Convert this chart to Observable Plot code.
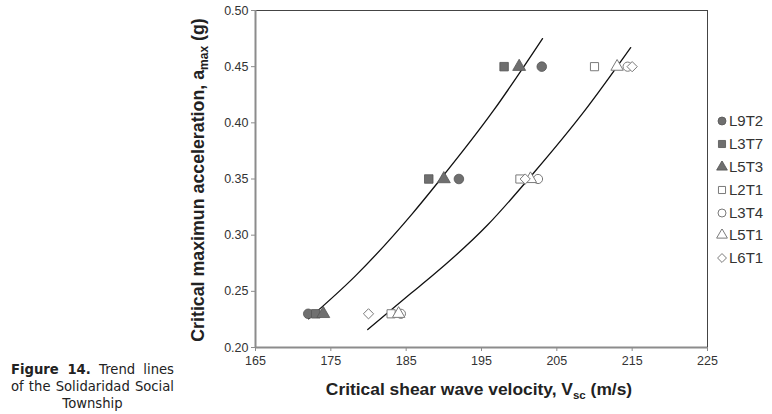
<!DOCTYPE html>
<html>
<head>
<meta charset="utf-8">
<script src="https://cdn.jsdelivr.net/npm/d3@7"></script>
<script src="https://cdn.jsdelivr.net/npm/@observablehq/plot@0.6"></script>
<style>
  html, body { margin: 0; padding: 0; background: #fff; }
  #wrap { position: relative; width: 772px; height: 414px; overflow: hidden; }
  #caption { position: absolute; left: 11px; top: 361px; width: 163px; font-family: "DejaVu Sans", Verdana, sans-serif; font-size: 13.2px; line-height: 17px; color: #222; }
  #caption span { display: block; white-space: nowrap; text-align: justify; text-align-last: justify; }
  #caption span.c { text-align: center; text-align-last: center; }
  #legend { position: absolute; left: 716px; top: 110px; font-family: "Liberation Sans", Arial, sans-serif; font-size: 15px; color: #333; }
  #legend div { height: 22.8px; line-height: 22px; display: flex; align-items: center; }
  #legend svg { margin-right: 1px; }
</style>
</head>
<body>
<div id="wrap">
  <div id="chart"></div>
  <div id="legend"></div>
  <div id="caption"><span><b>Figure 14.</b> Trend lines</span><span>of the Solidaridad Social</span><span class="c">Township</span></div>
</div>
<script>
// Accelerations (g) shared by all series
const accel = [0.23, 0.35, 0.45];
// Critical shear wave velocity (m/s) per series
const L9T2 = [172, 192, 203];
const L3T7 = [173, 188, 198];
const L5T3 = [174, 190, 200];
const L2T1 = [183, 200.1, 210];
const L3T4 = [184.3, 202.5, 214.4];
const L5T1 = [184, 201.5, 213];
const L6T1 = [180, 200.8, 215];

// Trend lines
const trendA_x = [172.05, 178.3, 185.8, 189.1, 196.6, 203.1];
const trendA_y = [0.2256, 0.264, 0.319, 0.346, 0.411, 0.475];
const trendB_x = [179.9, 185.6, 188.5, 195.8, 202.0, 208.6, 214.8];
const trendB_y = [0.216, 0.248, 0.264, 0.309, 0.356, 0.410, 0.467];

const xTicks = [165, 175, 185, 195, 205, 215, 225];
const yTicks = [0.20, 0.25, 0.30, 0.35, 0.40, 0.45, 0.50];

const seriesNames = ["L9T2", "L3T7", "L5T3", "L2T1", "L3T4", "L5T1", "L6T1"];
const seriesVals = [L9T2, L3T7, L5T3, L2T1, L3T4, L5T1, L6T1];
const symbols = ["circle", "square", "triangle", "square", "circle", "triangle", "diamond2"];
const filled = [true, true, true, false, false, false, false];

const FILL = "#6f6f6f", FSTROKE = "#555", OSTROKE = "#7a7a7a";

const points = [];
seriesNames.forEach((name, i) => {
  seriesVals[i].forEach((v, j) => points.push({name, v, a: accel[j], sym: symbols[i], filled: filled[i]}));
});
const trendA = trendA_x.map((x, i) => ({x, y: trendA_y[i]}));
const trendB = trendB_x.map((x, i) => ({x, y: trendB_y[i]}));

const dotsFor = (f) => points.filter(f);

const plot = Plot.plot({
  width: 772,
  height: 414,
  marginLeft: 255,
  marginRight: 65,
  marginTop: 10,
  marginBottom: 67,
  style: {fontFamily: "'Liberation Sans', Arial, sans-serif", fontSize: "12.5px", color: "#333", background: "transparent"},
  x: {domain: [165, 225], label: null},
  y: {domain: [0.2, 0.5], label: null},
  marks: [
    Plot.frame({stroke: "#444", strokeWidth: 1}),
    Plot.ruleX([165], {stroke: "#8c8c8c", strokeWidth: 2}),
    Plot.ruleY([0.2], {stroke: "#8c8c8c", strokeWidth: 2}),
    Plot.axisX({ticks: xTicks, tickSize: 4, tickPadding: 5, stroke: "#8c8c8c", label: null}),
    Plot.axisY({ticks: yTicks, tickSize: 4, tickPadding: 3, tickFormat: d3.format(".2f"), stroke: "#8c8c8c", label: null}),
    Plot.line(trendA, {x: "x", y: "y", curve: "monotone-x", stroke: "#111", strokeWidth: 1.3}),
    Plot.line(trendB, {x: "x", y: "y", curve: "monotone-x", stroke: "#111", strokeWidth: 1.3}),
    Plot.dot(dotsFor(d => !d.filled), {x: "v", y: "a", symbol: "sym", r: 4.6, fill: "white", stroke: OSTROKE, strokeWidth: 1}),
    Plot.dot(dotsFor(d => d.filled), {x: "v", y: "a", symbol: "sym", r: 4.8, fill: FILL, stroke: FSTROKE, strokeWidth: 0.8})
  ]
});
document.getElementById("chart").appendChild(plot);

// Axis titles with subscripts
const svg = d3.select(plot);
const xt = svg.append("text")
  .attr("x", 479).attr("y", 395)
  .attr("text-anchor", "middle")
  .attr("font-family", "'Liberation Sans', Arial, sans-serif")
  .attr("font-weight", "bold").attr("font-size", 17.4).attr("fill", "#222");
xt.append("tspan").text("Critical shear wave velocity, V");
xt.append("tspan").attr("font-size", 11.5).attr("dy", 4).text("sc");
xt.append("tspan").attr("dy", -4).text(" (m/s)");

const yt = svg.append("text")
  .attr("transform", "translate(204,180) rotate(-90)")
  .attr("text-anchor", "middle")
  .attr("font-family", "'Liberation Sans', Arial, sans-serif")
  .attr("font-weight", "bold").attr("font-size", 17.8).attr("fill", "#222");
yt.append("tspan").text("Critical maximun acceleration, a");
yt.append("tspan").attr("font-size", 12).attr("dy", 4).text("max");
yt.append("tspan").attr("dy", -4).text(" (g)");

// Legend
const legend = d3.select("#legend");
seriesNames.forEach((name, i) => {
  const row = legend.append("div");
  const s = row.append("svg").attr("width", 12).attr("height", 12);
  const symName = symbols[i];
  const symMap = {circle: d3.symbolCircle, square: d3.symbolSquare, triangle: d3.symbolTriangle, diamond2: d3.symbolDiamond2};
  s.append("path")
    .attr("transform", "translate(6,6)")
    .attr("d", d3.symbol(symMap[symName], Math.PI * 4.0 * 4.0)())
    .attr("fill", filled[i] ? FILL : "white")
    .attr("stroke", filled[i] ? FSTROKE : OSTROKE)
    .attr("stroke-width", filled[i] ? 0.8 : 1);
  row.append("span").text(name);
});
</script>
</body>
</html>
